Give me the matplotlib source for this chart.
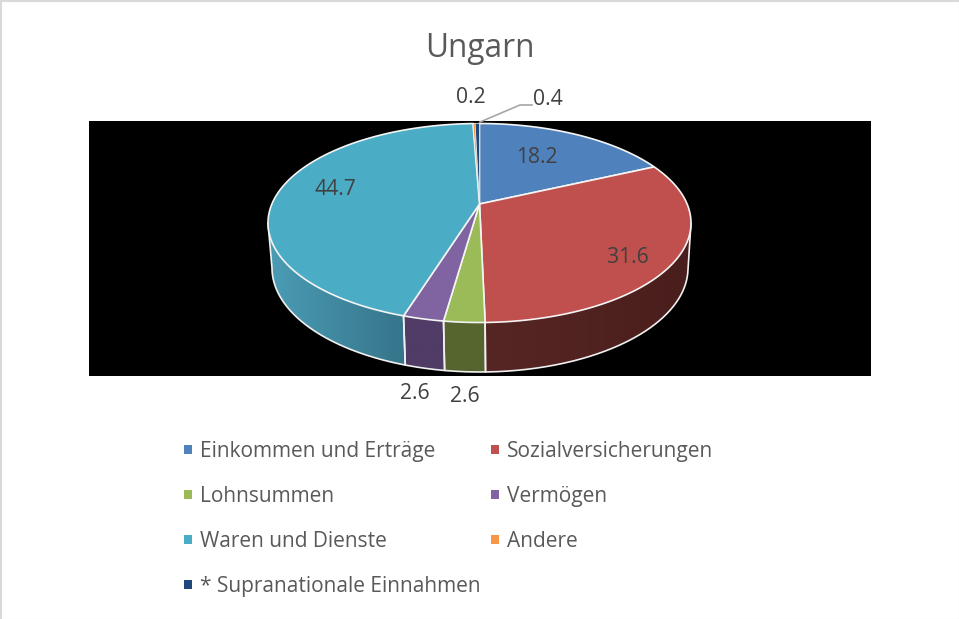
import numpy as np
import matplotlib
matplotlib.use("Agg")
import matplotlib.pyplot as plt
from matplotlib.patches import Polygon, Rectangle
from matplotlib.colors import to_rgb

plt.rcParams['font.family'] = ['Open Sans', 'DejaVu Sans']

title = "Ungarn"
categories = ["Einkommen und Erträge", "Sozialversicherungen", "Lohnsummen", "Vermögen",
              "Waren und Dienste", "Andere", "* Supranationale Einnahmen"]
values = [18.2, 31.6, 2.6, 2.6, 44.7, 0.2, 0.4]
value_labels = ["18.2", "31.6", "2.6", "2.6", "44.7", "0.2", "0.4"]
colors = ["#4F81BD", "#C0504D", "#9BBB59", "#8064A2", "#4BACC6", "#F79646", "#1F497D"]
# wall gradient (left, right) for the slices whose side is seen
wall_left = {1: "#562624", 2: "#56652F", 3: "#503C66", 4: "#4A9DB5"}
wall_right = {1: "#4A1E1C", 2: "#56652F", 3: "#503C66", 4: "#36748A"}
label_xy = [(537, 163), (627.5, 263), (465, 402), (415, 399), (335, 195), (471, 103), (548, 105)]
legend_xy = [(188, 449), (495, 449), (188, 494), (495, 494), (188, 539), (495, 539), (188, 584)]

W, H = 959, 619
fig = plt.figure(figsize=(W / 100, H / 100), dpi=100)
ax = fig.add_axes([0, 0, 1, 1])
ax.axis("off")

ax.add_patch(Rectangle((0.5, 0.5), W, H, fc="white", ec="#D9D9D9", lw=1.5))
ax.add_patch(Rectangle((89, 121), 782, 255, fc="black", ec="none"))

CX, CY, RX, RY = 479.5, 223, 211.5, 99.5
LX, LY, LRX, LRY = 480, 268, 208, 104
K = 0.824


def persp(theta):
    """true pie angle (radians, clockwise from top) -> ellipse parameter"""
    theta = np.asarray(theta, dtype=float)
    return 2 * np.arctan2(K * np.sin(theta / 2), np.cos(theta / 2))


def top(t):
    t = np.atleast_1d(t)
    return np.column_stack([CX + RX * np.sin(t), CY - RY * np.cos(t)])


def low(t):
    t = np.atleast_1d(t)
    return np.column_stack([LX + LRX * np.sin(t), LY - LRY * np.cos(t)])


apex = (479.5, 204)
cum = np.concatenate([[0], np.cumsum(values)]) / np.sum(values) * 2 * np.pi
edges = [(persp(a), persp(b)) for a, b in zip(cum[:-1], cum[1:])]

# side walls, each a horizontal gradient clipped to the wall's outline
for i, (a, b) in enumerate(edges):
    a2, b2 = max(a, np.pi / 2), min(b, 3 * np.pi / 2)
    if b2 <= a2 or i not in wall_left:
        continue
    ts = np.linspace(a2, b2, 200)
    pts = np.vstack([top(ts), low(ts[::-1])])
    poly = Polygon(pts, fc="none", ec="none")
    ax.add_patch(poly)
    x0, x1 = pts[:, 0].min(), pts[:, 0].max()
    y0, y1 = pts[:, 1].min(), pts[:, 1].max()
    f = np.linspace(0, 1, 256)[:, None]
    grad = (1 - f) * np.array(to_rgb(wall_left[i])) + f * np.array(to_rgb(wall_right[i]))
    im = ax.imshow(grad.reshape(1, 256, 3), extent=(x0, x1, y1, y0),
                   aspect="auto", interpolation="bilinear", zorder=1.5)
    im.set_clip_path(poly)
    edge = np.vstack([top(a2), low(ts), top(b2)])
    ax.plot(edge[:, 0], edge[:, 1], color="#F0F0F0", lw=1.2, zorder=1.6)

ax.set_xlim(0, W)
ax.set_ylim(H, 0)

# top faces
for i, (a, b) in enumerate(edges):
    ts = np.linspace(a, b, 200)
    pts = np.vstack([[apex], top(ts)])
    ax.add_patch(Polygon(pts, fc=colors[i], ec="#F4F4F4", lw=1.2 if values[i] > 1 else 0.5, zorder=2))

# data labels
for (x, y), s in zip(label_xy, value_labels):
    ax.text(x, y, s, fontsize=15.2, color="#404040", ha="center", va="baseline", zorder=3)

# leader line of the smallest slice
ax.plot([480, 520, 532], [122, 105, 105], color="#A6A6A6", lw=1.2, zorder=3)

ax.text(480, 57, title, fontsize=22.7, color="#595959", ha="center", va="baseline")

# legend
for (x, y), c, s in zip(legend_xy, colors, categories):
    ax.add_patch(Rectangle((x - 4.5, y - 4), 8.5, 8.5, fc=c, ec="none"))
    ax.text(x + 12, y + 8, s, fontsize=15, color="#595959", ha="left", va="baseline")

fig.savefig("out.png", dpi=100)
